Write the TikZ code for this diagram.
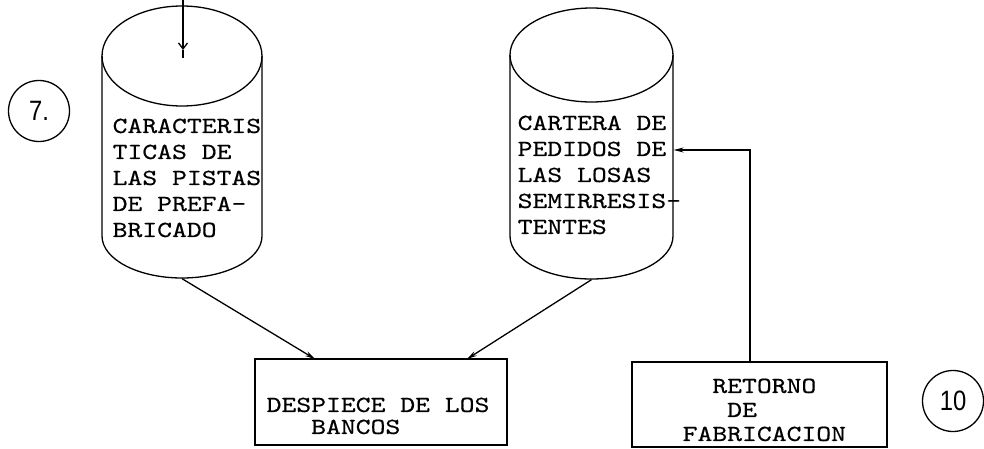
\documentclass[tikz,border=0pt]{standalone}
\usepackage{fontspec}
\newfontfamily\mono[FakeStretch=1.23,FakeBold=0.5]{lmmono10-regular.otf}
\newfontfamily\numfont[FakeStretch=0.85]{Liberation Sans}
\usetikzlibrary{arrows.meta}
\begin{document}
\begin{tikzpicture}[x=1pt,y=-1pt,
  line width=1.3pt,
  txt/.style={font=\mono\fontsize{23}{26}\selectfont, align=left, inner sep=0pt, anchor=north west},
  box/.style={draw, inner sep=0pt},
  hold/.style={inner sep=0pt},
  arr/.style={-{Stealth[length=10pt,width=5pt]}},
  inarr/.style={-{Straight Barb[length=6pt,width=9pt]}},
  num/.style={draw, circle, minimum size=61pt, inner sep=0pt, font=\numfont\fontsize{28}{28}\selectfont},
  ]
\useasboundingbox (0,0) rectangle (984,449);

% left cylinder
\node[hold, minimum width=160pt, minimum height=273pt] (cylL) at (182,141.5) {};
\draw (182,56) ellipse [x radius=80, y radius=50];
\draw (102,56) -- (102,236) arc[start angle=180, end angle=0, x radius=80, y radius=42] -- (262,56);

% right cylinder
\node[hold, minimum width=163pt, minimum height=271pt] (cylR) at (591.5,143.5) {};
\draw (591.5,55) ellipse [x radius=81.5, y radius=47];
\draw (510,55) -- (510,236) arc[start angle=180, end angle=0, x radius=81.5, y radius=43] -- (673,55);

% texts in cylinders
\node[txt] (txtL) at (112,118) {CARACTERIS\\TICAS DE\\LAS PISTAS\\DE PREFA-\\BRICADO};
\node[txt] (txtR) at (517,115) {CARTERA DE\\PEDIDOS DE\\LAS LOSAS\\SEMIRRESIS-\\TENTES};

% boxes
\node[box, minimum width=252pt, minimum height=86pt] (desp) at (381,402) {};
\node[txt] (txtD) at (266,397) {DESPIECE DE LOS\\[-4pt]\phantom{BAN}BANCOS};
\node[box, minimum width=255pt, minimum height=85pt] (ret) at (759.5,404.5) {};
\node[txt] (txtRet) at (682,378) {\phantom{XX}RETORNO\\[-2pt]\phantom{XXX}DE\\[-2pt]FABRICACION};

% numbers
\node[num] (n7) at (39,111) {7.};
\node[num] (n10) at (953,401) {10};

% connectors
\coordinate (inStart) at (183,0);
\coordinate (inTip) at (183,50);
\coordinate (inEnd) at (183,58);
\draw[inarr] (inStart) -- (inTip);
\draw (inTip) -- (inEnd);
\coordinate (tipL) at (315,359);
\coordinate (tipR) at (467,359);
\draw[arr] (cylL.south) -- (tipL);
\draw[arr] (cylR.south) -- (tipR);
\coordinate (bend) at (750,150);
\draw[arr] (ret.north -| bend) -- (bend) -- (bend -| cylR.east);
\end{tikzpicture}
\end{document}
